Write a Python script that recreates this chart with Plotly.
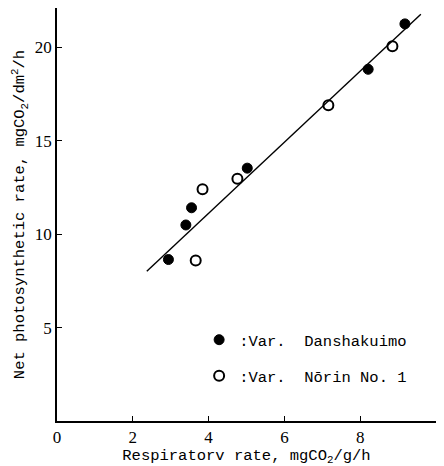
import plotly.graph_objects as go

# Data
dansh_x = [2.94, 3.40, 3.55, 5.02, 8.21, 9.18]
dansh_y = [8.64, 10.49, 11.41, 13.53, 18.82, 21.25]
norin_x = [3.66, 3.84, 4.76, 7.16, 8.85]
norin_y = [8.59, 12.40, 12.96, 16.89, 20.05]
fit_x = [2.37, 9.60]
fit_y = [8.01, 21.77]
x_ticks = [0, 2, 4, 6, 8, 10]
y_ticks = [5, 10, 15, 20]

FONT = "Liberation Mono"
TFONT = "Liberation Serif"

fig = go.Figure()
fig.add_trace(go.Scatter(x=fit_x, y=fit_y, mode="lines",
                         line=dict(color="black", width=1.4), showlegend=False,
                         hoverinfo="skip"))
fig.add_trace(go.Scatter(x=dansh_x, y=dansh_y, mode="markers",
                         name=":Var.  Danshakuimo", legendgroup="a",
                         marker=dict(symbol="circle", size=10, color="black",
                                     line=dict(color="black", width=1))))
fig.add_trace(go.Scatter(x=norin_x, y=norin_y, mode="markers",
                         name=":Var.  Nōrin No. 1", legendgroup="b",
                         marker=dict(symbol="circle-open", size=10, color="black",
                                     line=dict(color="black", width=2))))

fig.update_layout(
    width=444, height=466,
    margin=dict(l=57, r=8, t=8, b=41),
    paper_bgcolor="white", plot_bgcolor="white",
    font=dict(family=FONT, size=15, color="black"),
    showlegend=True,
    legend=dict(x=0.375, y=0.237, xanchor="left", yanchor="top",
                bgcolor="rgba(0,0,0,0)", tracegroupgap=13,
                itemwidth=30, font=dict(family=FONT, size=15.5)),
    xaxis=dict(range=[0, 10], tickvals=x_ticks, showgrid=False, zeroline=False,
               showline=True, linecolor="black", linewidth=1.5,
               ticks="inside", ticklen=5, tickcolor="black",
               tickfont=dict(family=TFONT, size=17),
               title=dict(text="Respiratorv rate, mgCO<sub>2</sub>/g/h",
                          standoff=0, font=dict(size=15.5))),
    yaxis=dict(range=[0, 22.1], tickvals=y_ticks, showgrid=False, zeroline=False,
               showline=True, linecolor="black", linewidth=1.5,
               ticks="inside", ticklen=5, tickcolor="black",
               tickfont=dict(family=TFONT, size=17),
               title=dict(text="Net photosynthetic rate, mgCO<sub>2</sub>/dm<sup>2</sup>/h",
                          standoff=6, font=dict(size=15.5))),
)

fig.write_html("out.html")
